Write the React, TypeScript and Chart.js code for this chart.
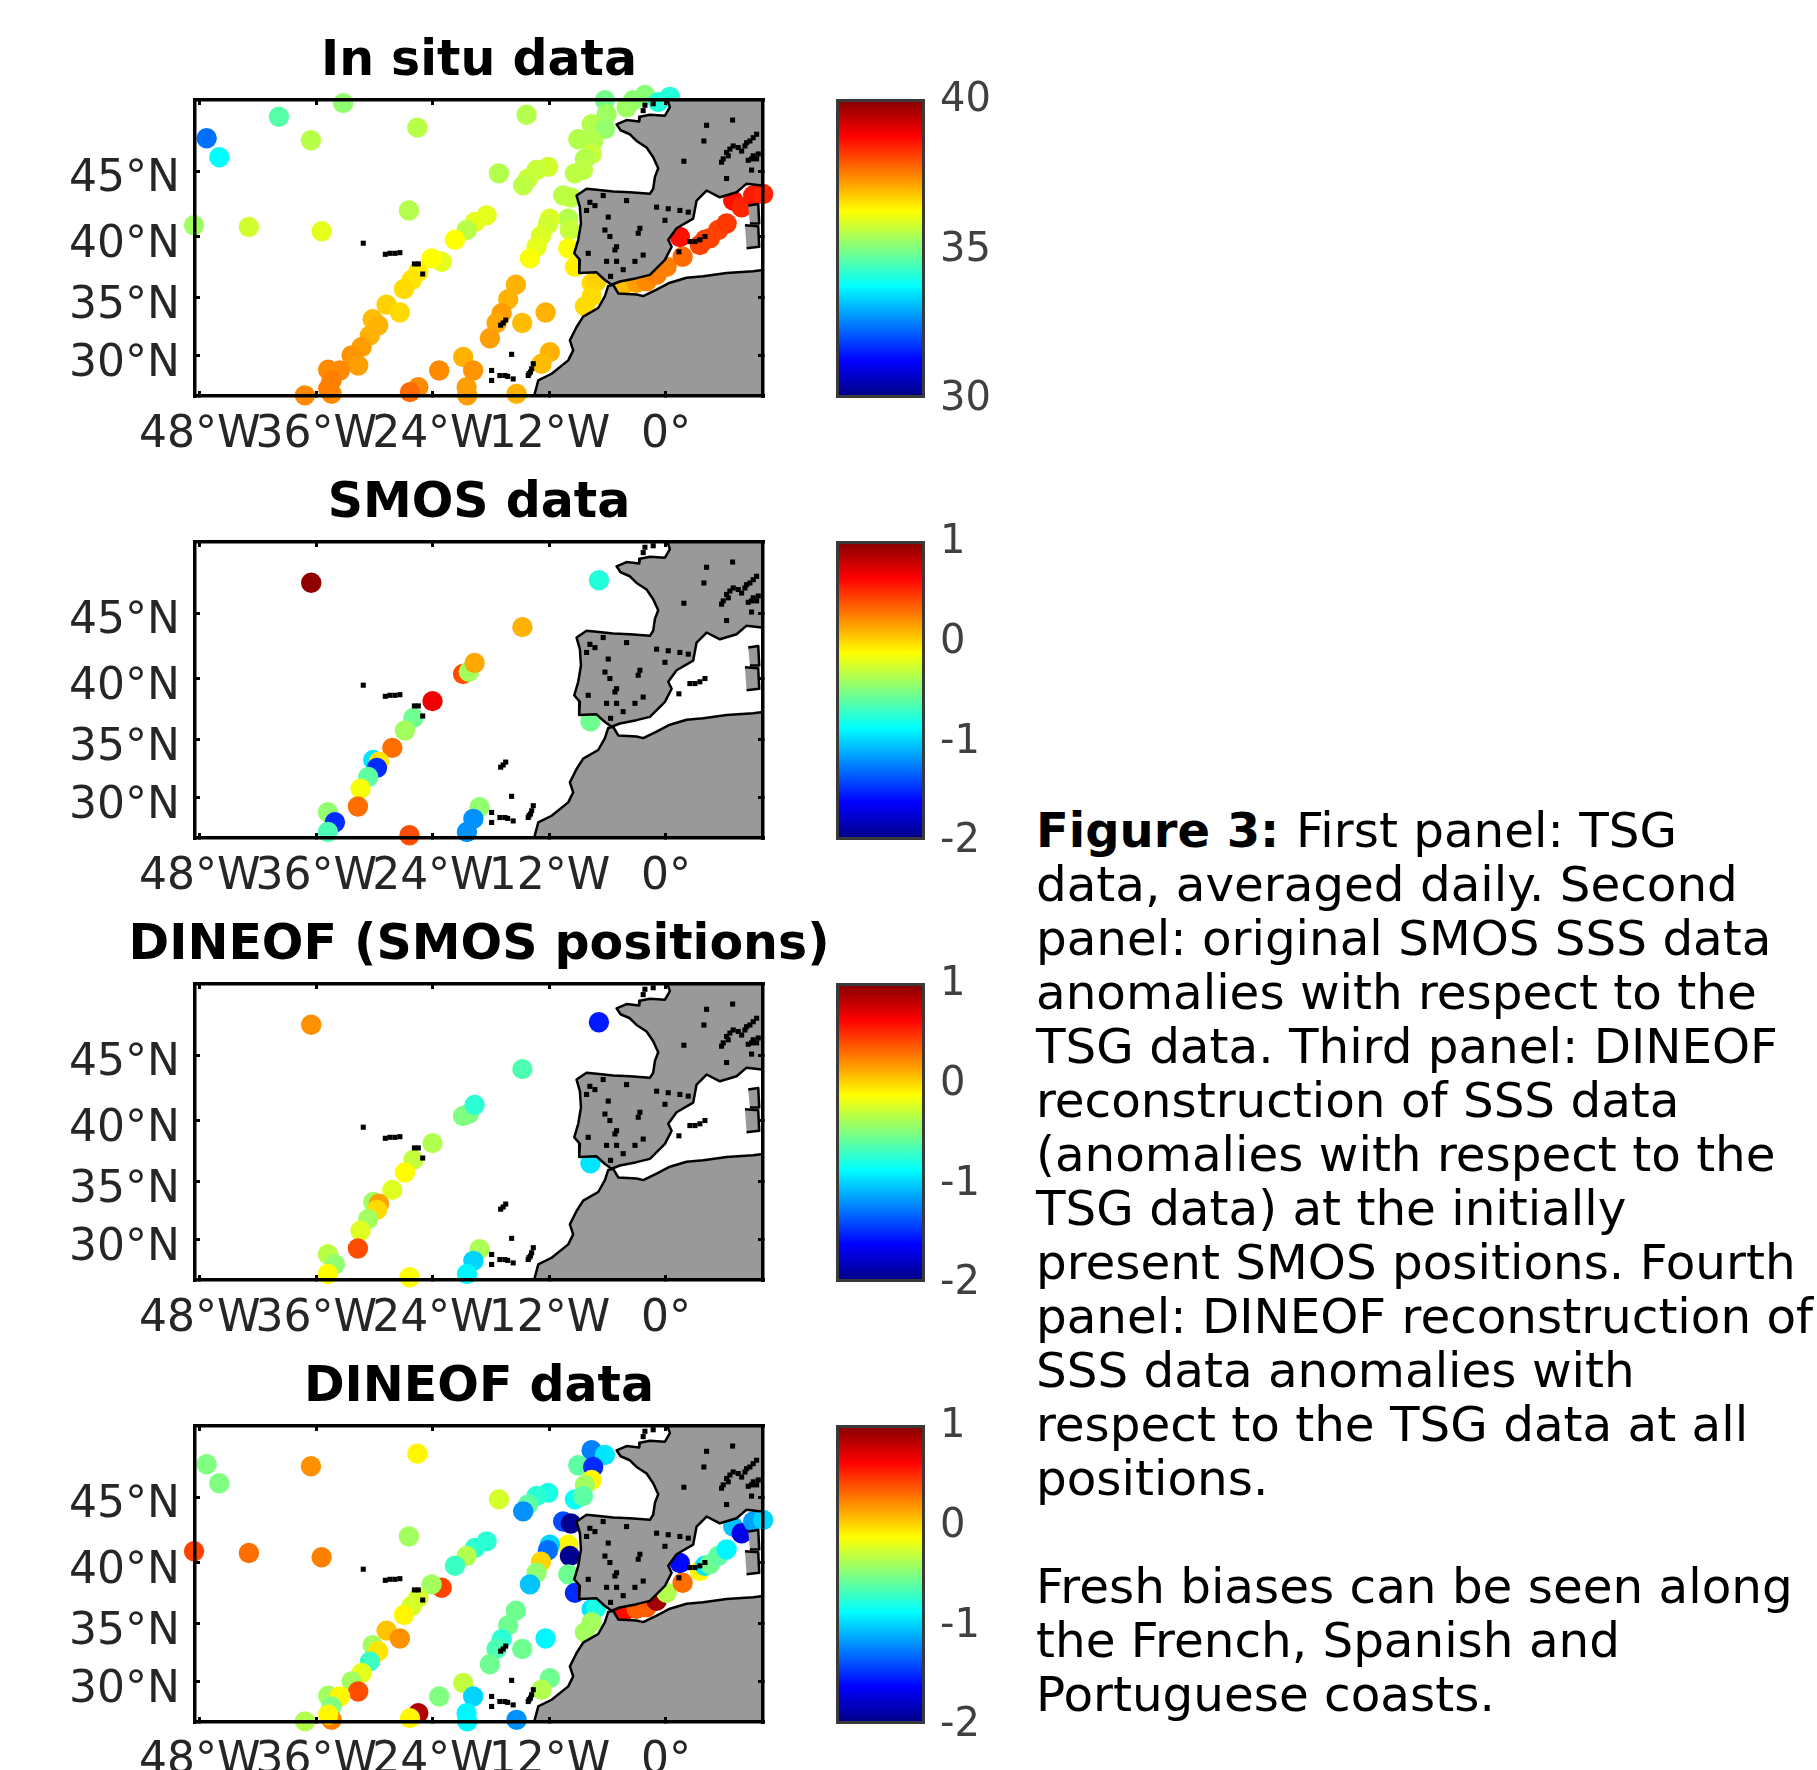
import React, { useEffect, useRef } from "react";
import { Chart, registerables } from "chart.js";

Chart.register(...registerables);

const FONT = "'DejaVu Sans', Verdana, sans-serif";

// ---- In situ / DINEOF track positions ----
const trackLon = [
  -47.3, -46.0, -39.86, -33.24, -36.56, -25.6, -48.6, -42.95, -35.46, -26.47,
  -19.67, -20.53, -21.73, -23.1, -24.13, -25.5, -26.19, -26.98, -28.77, -27.4,
  -30.2, -29.63, -30.48, -31.34, -32.37, -31.69, -34.78, -33.57, -34.43, -34.43,
  -34.78, -37.18, -25.5, -26.36, -23.35, -20.88, -19.85, -20.53, -20.46,
  -6.28, -3.37, -2.16, -0.79, 0.41, -4.05, -6.11, -7.65, -6.28, -9.03,
  -7.49, -7.65, -8.34, -9.37, -8.55, -14.35, -17.2, -12.12, -13.32, -14.18,
  -14.7, -10.58, -9.78, -10.06, -9.89, -10.06, -9.37, -11.95, -12.15, -12.87,
  -13.32, -14.0, -18.47, -7.65, -7.14, -7.65, -8.34, -15.45, -16.24, -16.92,
  -17.44, -18.13, -12.39, -14.8, -11.95, -12.8, -15.38, -4.4, -3.02, -1.99,
  -0.96, 0.07, 1.72, 1.44, 3.5, 4.02, 4.53, 5.39, 6.25, 6.93, 7.8, 8.99, 10.02,
];
const trackLat = [
  47.34, 46.0, 48.82, 49.74, 47.2, 48.08, 40.9, 40.77, 40.43, 42.05,
  41.16, 40.53, 39.76, 38.0, 38.27, 37.18, 36.5, 35.75, 34.43, 33.75,
  33.17, 32.66, 31.77, 30.74, 30.0, 29.09, 28.7, 28.64, 27.73, 26.5,
  26.97, 26.36, 27.12, 26.66, 28.64, 29.85, 28.64, 27.12, 26.36,
  49.93, 49.93, 50.28, 49.81, 50.16, 49.47, 49.0, 48.31, 47.99, 47.27,
  47.15, 46.23, 45.88, 44.83, 45.07, 48.96, 44.83, 45.3, 45.07, 44.45,
  43.94, 43.18, 43.03, 41.42, 40.53, 39.08, 37.58, 41.42, 40.98, 40.08,
  39.21, 38.27, 41.67, 36.24, 36.37, 35.15, 34.28, 36.11, 34.88, 33.7,
  32.85, 31.52, 33.75, 32.85, 30.29, 29.25, 26.5, 36.0, 36.27, 36.4,
  36.92, 37.59, 38.4, 39.98, 39.35, 39.76, 39.89, 40.53, 41.04, 42.8, 42.3, 43.18, 43.3,
];
const inSituValues = [
  32.35, 33.75, 34.6, 35.15, 35.55, 35.55, 35.3, 35.8, 36.0, 35.5,
  36.0, 35.55, 36.25, 36.0, 36.25, 36.4, 36.5, 36.6, 36.7, 36.6,
  36.9, 37.0, 37.0, 37.2, 37.3, 37.2, 37.4, 37.4, 37.5, 37.4,
  37.5, 37.4, 37.4, 37.7, 37.4, 37.0, 37.3, 37.2, 37.2,
  34.9, 35.1, 35.1, 34.1, 34.1, 35.3, 35.3, 35.5, 35.2, 35.5,
  35.5, 35.7, 35.5, 35.6, 35.6, 35.5, 35.5, 35.8, 35.7, 35.7,
  35.6, 35.6, 35.6, 35.5, 35.7, 36.2, 36.4, 35.9, 35.8, 35.9,
  36.0, 36.2, 36.0, 36.6, 36.7, 36.6, 36.6, 37.0, 37.0, 37.2,
  37.1, 37.2, 37.0, 36.9, 37.0, 36.9, 37.0, 36.9, 37.2, 37.4,
  37.5, 37.5, 37.7, 38.6, 38.1, 38.1, 38.1, 38.1, 38.2, 38.6, 38.4, 38.5, 38.4,
];
const dineofValues = [
  -0.5, -0.5, null, null, 0.2, -0.1, 0.43, 0.3, 0.25, -0.4,
  -0.74, -0.35, -0.7, 0.43, -0.4, -0.25, -0.25, -0.1, 0.05, 0.2,
  -0.4, -0.05, -0.7, -0.2, -0.4, 0.4, -0.4, -0.1, -0.5, 0.25,
  -0.1, -0.35, 0.85, -0.1, -0.5, -0.3, -1.0, -0.9, -0.9,
  null, null, null, null, null, null, null, -1.25, -0.95, -0.6,
  -1.5, -0.1, -0.4, -0.85, -0.6, null, -0.25, -0.8, -0.75, -0.6,
  -1.2, -1.4, -1.95, -0.1, -1.95, -0.55, -1.5, -1.0, -1.3, 0.0,
  -0.45, -1.05, -0.75, -0.95, -0.8, -0.4, -0.4, -0.55, -0.55, -0.75,
  -0.65, -0.55, -0.9, -0.55, -0.55, -0.35, -1.2, 0.6, 0.35, 0.35,
  0.9, -0.35, 0.3, -1.6, -0.1, -0.95, -0.55, -0.6, -0.9, -1.05, -1.7, -1.15, -1.0,
];

// ---- SMOS positions ----
const smosLon = [
  -36.53, -6.9, -14.78, -20.89, -20.29, -19.7, -24.04, -26.01, -26.88, -28.18, -30.14, -29.56,
  -29.76, -30.66, -31.45, -31.72, -34.81, -34.09, -34.81, -26.41, -19.19, -19.83, -20.49, -7.77,
];
const smosLat = [
  47.17, 47.34, 43.96, 40.38, 40.55, 41.24, 38.21, 36.84, 35.79, 34.32, 33.28, 33.13,
  32.6, 31.8, 30.77, 29.18, 28.66, 27.75, 26.85, 26.55, 29.12, 28.06, 26.85, 36.55,
];
const smosValues = [
  0.95, -0.77, 0.1, 0.4, -0.4, 0.13, 0.67, -0.55, -0.4, 0.3, -0.95, -0.05,
  -1.5, -0.6, -0.15, 0.3, -0.45, -1.5, -0.65, 0.4, -0.45, -1.2, -1.2, -0.55,
];
const dineofSmosValues = [
  0.2, -1.55, -0.65, -0.5, -0.5, -0.75, -0.35, -0.3, -0.12, -0.22, -0.4, 0.15,
  -0.02, -0.4, -0.22, 0.4, -0.33, -0.45, -0.12, -0.12, -0.37, -1.0, -0.9, -0.95,
];

// ---- Land outlines as [lon, lat] ----
const europeCoast = [
  [10.2, 50.1], [0.07, 50.1], [0.41, 49.47], [-0.1, 48.9], [-1.65, 48.96], [-2.68, 48.82], [-2.75, 48.5],
  [-4.05, 48.6], [-5.08, 48.31], [-4.67, 47.9], [-3.71, 47.62], [-3.02, 47.15], [-1.99, 46.69], [-1.31, 46.0],
  [-0.79, 45.2], [-1.13, 44.57], [-1.31, 43.69], [-1.65, 43.31], [-3.71, 43.43], [-5.43, 43.48], [-7.14, 43.61],
  [-8.17, 43.69], [-9.2, 43.18], [-8.86, 42.3], [-8.75, 41.04], [-9.03, 39.76], [-9.44, 38.68], [-8.86, 38.15],
  [-8.93, 37.08], [-7.14, 37.13], [-6.28, 36.5], [-5.59, 36.1], [-4.74, 36.37], [-3.02, 36.65], [-1.65, 36.92],
  [-0.1, 38.15], [0.59, 39.21], [0.24, 39.76], [1.1, 40.67], [2.81, 41.42], [3.16, 42.8], [4.19, 43.56],
  [5.56, 43.05], [7.28, 43.43], [8.31, 44.07], [9.86, 43.94], [10.2, 43.94],
];
const africaCoast = [
  [-13.66, 26.0], [-13.15, 27.73], [-11.77, 28.34], [-10.06, 29.55], [-9.55, 30.44], [-9.89, 31.33], [-9.2, 32.5],
  [-8.52, 33.4], [-6.97, 34.14], [-6.28, 35.15], [-5.94, 36.0], [-5.43, 36.1], [-4.91, 35.37], [-3.02, 35.29],
  [-2.34, 35.15], [-0.96, 35.7], [0.41, 36.27], [2.13, 36.68], [3.85, 36.8], [6.25, 37.08], [8.99, 37.22],
  [10.2, 37.35], [10.2, 26.0],
];
const corsicaCoast = [[8.48, 42.42], [9.51, 42.55], [9.61, 41.04], [8.65, 41.04]];
const sardiniaCoast = [[8.14, 40.9], [9.51, 40.83], [9.61, 39.21], [8.31, 39.08]];
const specks = [
  [-7.83, 42.67], [-7.31, 42.42], [-8.17, 42.05], [-5.94, 41.54], [-6.28, 40.53], [-5.77, 40.02], [-5.08, 39.21],
  [-5.25, 38.95], [-2.68, 40.67], [-2.85, 40.28], [-0.96, 42.3], [0.24, 42.18], [1.44, 42.05], [2.3, 41.92],
  [-0.1, 41.29], [-4.05, 42.8], [-6.46, 43.18], [-2.34, 38.54], [-3.19, 38.03], [-6.11, 38.03], [-5.08, 38.03],
  [-4.4, 37.35], [-8.0, 38.68], [-5.7, 36.8],
  [6.93, 46.8], [6.25, 46.34], [5.73, 45.64], [8.31, 47.03], [9.34, 47.62], [8.82, 45.88], [9.34, 45.88],
  [7.8, 46.44], [6.25, 44.45], [8.82, 45.07], [4.19, 48.24], [6.87, 48.6], [3.91, 47.15], [1.85, 45.71],
  [6.59, 46.58], [6.42, 46.1], [5.9, 45.88], [7.45, 46.69], [8.65, 47.15], [8.99, 47.38], [8.14, 46.8],
  [8.99, 46.1], [9.51, 46.23], [8.48, 45.78],
  [2.99, 39.62], [2.47, 39.62], [3.5, 39.76], [4.02, 40.02], [1.34, 38.8],
  [-17.95, 28.64], [-17.1, 28.18], [-16.58, 28.18], [-15.73, 27.87], [-17.95, 27.73], [-13.83, 28.79],
  [-13.66, 29.25], [-14.18, 28.18], [-13.95, 28.5], [-14.1, 28.35], [-16.3, 28.1], [-15.89, 30.09],
  [-16.76, 32.85], [-17.02, 32.66], [-16.5, 33.1],
  [-31.17, 39.49], [-28.9, 38.6], [-28.42, 38.68], [-27.91, 38.68], [-27.4, 38.73], [-25.5, 37.82], [-25.9, 37.82],
  [-25.05, 36.99], [-2.16, 49.6], [-2.34, 49.24], [-1.31, 49.7],
];

// ---- Axis ticks ----
const lonTicks = [-48, -36, -24, -12, 0];
const lonTickLabels = ["48°W", "36°W", "24°W", "12°W", "0°"];
const latTicks = [30, 35, 40, 45];
const latTickLabels = ["30°N", "35°N", "40°N", "45°N"];
const insituBarTicks = [30, 35, 40];
const anomalyBarTicks = [-2, -1, 0, 1];

const jetStops: [number, string][] = [
  [0, "#000080"], [0.125, "#0000ff"], [0.375, "#00ffff"], [0.625, "#ffff00"], [0.875, "#ff0000"], [1, "#800000"],
];

const merc = (lat: number) => Math.log(Math.tan(Math.PI / 4 + (lat * Math.PI) / 360));

function jet(t: number) {
  const c = (x: number) => Math.round(255 * Math.max(0, Math.min(1, x)));
  const r = Math.min(4 * t - 1.5, -4 * t + 4.5);
  const g = Math.min(4 * t - 0.5, -4 * t + 3.5);
  const b = Math.min(4 * t + 0.5, -4 * t + 2.5);
  return `rgb(${c(r)},${c(g)},${c(b)})`;
}

function zeroPadding(scale: any) {
  scale.paddingLeft = 0;
  scale.paddingRight = 0;
  scale.paddingTop = 0;
  scale.paddingBottom = 0;
}

const PANEL_W = 958;
const TITLE_H = 100;
const AREA_LEFT = 195;
const AREA_H = 296;
const BOTTOM_H = 75;

type PanelProps = {
  title: string;
  top: number;
  lons: number[];
  lats: number[];
  values: (number | null)[];
  vmin: number;
  vmax: number;
};

function MapPanel({ title, top, lons, lats, values, vmin, vmax }: PanelProps) {
  const ref = useRef<HTMLCanvasElement>(null);
  useEffect(() => {
    const points: { x: number; y: number }[] = [];
    const colors: string[] = [];
    values.forEach((v, i) => {
      if (v === null) return;
      points.push({ x: lons[i], y: merc(lats[i]) });
      colors.push(jet((v - vmin) / (vmax - vmin)));
    });
    const land = (coast: number[][]) => ({
      type: "scatter" as const,
      data: coast.map(([x, y]) => ({ x, y: merc(y) })),
      showLine: true,
      fill: "shape",
      backgroundColor: "#999999",
      borderColor: "#000000",
      borderWidth: 2.5,
      pointRadius: 0,
      tension: 0,
      order: 1,
    });
    const frame = {
      grid: { drawOnChartArea: false, color: "#000", lineWidth: 3, tickLength: -5, z: 1 },
      border: { display: true, color: "#000", width: 3.5, z: 1 },
    };
    const chart = new Chart(ref.current!, {
      type: "scatter",
      data: {
        datasets: [
          land(europeCoast),
          land(africaCoast),
          land(corsicaCoast),
          land(sardiniaCoast),
          {
            data: specks.map(([x, y]) => ({ x, y: merc(y) })),
            pointStyle: "rect",
            pointRadius: 3.6,
            pointBorderWidth: 0,
            backgroundColor: "#000",
            order: 0,
          },
          {
            data: points,
            backgroundColor: colors,
            pointRadius: 10.2,
            pointBorderWidth: 0,
            clip: false,
            order: 2,
          },
        ] as any,
      },
      options: {
        responsive: false,
        animation: false,
        layout: { padding: 0 },
        plugins: {
          legend: { display: false },
          tooltip: { enabled: false },
          title: {
            display: true,
            text: title,
            color: "#000",
            font: { family: FONT, size: 49, weight: "bold", lineHeight: 1.2 },
            padding: { top: 33, bottom: 8.2 },
          },
        },
        elements: { line: { borderJoinStyle: "round" } },
        scales: {
          x: {
            type: "linear",
            position: "bottom",
            min: -48.5,
            max: 10,
            afterBuildTicks: (s: any) => {
              s.ticks = lonTicks.map((value) => ({ value }));
            },
            afterFit: (s: any) => {
              s.height = BOTTOM_H;
              zeroPadding(s);
            },
            ticks: {
              autoSkip: false,
              maxRotation: 0,
              minRotation: 0,
              padding: 18,
              color: "#262626",
              font: { family: FONT, size: 44 },
              callback: (_v: any, i: number) => lonTickLabels[i],
            },
            ...frame,
          },
          x2: {
            type: "linear",
            position: "top",
            min: -48.5,
            max: 10,
            afterBuildTicks: (s: any) => {
              s.ticks = lonTicks.map((value) => ({ value }));
            },
            afterFit: (s: any) => {
              s.height = 0;
              zeroPadding(s);
            },
            ticks: { display: false },
            ...frame,
          },
          y: {
            type: "linear",
            position: "left",
            min: merc(26.3),
            max: merc(49.95),
            afterBuildTicks: (s: any) => {
              s.ticks = latTicks.map((l) => ({ value: merc(l) }));
            },
            afterFit: (s: any) => {
              s.width = AREA_LEFT;
              zeroPadding(s);
            },
            ticks: {
              autoSkip: false,
              padding: 20,
              labelOffset: 9,
              color: "#262626",
              font: { family: FONT, size: 44 },
              callback: (_v: any, i: number) => latTickLabels[i],
            },
            ...frame,
          },
          y2: {
            type: "linear",
            position: "right",
            min: merc(26.3),
            max: merc(49.95),
            afterBuildTicks: (s: any) => {
              s.ticks = latTicks.map((l) => ({ value: merc(l) }));
            },
            afterFit: (s: any) => {
              s.width = AREA_LEFT;
              zeroPadding(s);
            },
            ticks: { display: false },
            ...frame,
          },
        },
      } as any,
    });
    return () => chart.destroy();
  }, []);
  return (
    <canvas
      ref={ref}
      width={PANEL_W}
      height={TITLE_H + AREA_H + BOTTOM_H}
      style={{ position: "absolute", left: 0, top: top - TITLE_H }}
    />
  );
}

function ColorBar({ top, vmin, vmax, ticks }: { top: number; vmin: number; vmax: number; ticks: number[] }) {
  const ref = useRef<HTMLCanvasElement>(null);
  useEffect(() => {
    const chart = new Chart(ref.current!, {
      type: "bar",
      data: {
        labels: [""],
        datasets: [
          {
            data: [[vmin, vmax]],
            backgroundColor: (ctx: any) => {
              const area = ctx.chart.chartArea;
              if (!area) return "#000";
              const g = ctx.chart.ctx.createLinearGradient(0, area.bottom, 0, area.top);
              jetStops.forEach(([p, c]) => g.addColorStop(p, c));
              return g;
            },
            borderColor: "#3a3a3a",
            borderWidth: 3,
            borderSkipped: false,
            inflateAmount: 0,
            barPercentage: 1,
            categoryPercentage: 1,
          },
        ] as any,
      },
      options: {
        responsive: false,
        animation: false,
        layout: { padding: { left: 36, right: 0, top: 30, bottom: 30 } },
        plugins: { legend: { display: false }, tooltip: { enabled: false } },
        scales: {
          x: { type: "category", display: false },
          y: {
            type: "linear",
            position: "right",
            min: vmin,
            max: vmax,
            afterBuildTicks: (s: any) => {
              s.ticks = ticks.map((value) => ({ value }));
            },
            afterFit: (s: any) => {
              s.width = 75;
              zeroPadding(s);
            },
            grid: { display: false },
            border: { display: false },
            ticks: {
              autoSkip: false,
              padding: 7,
              labelOffset: 2,
              color: "#404040",
              font: { family: FONT, size: 40 },
              callback: (v: any) => String(v),
            },
          },
        },
      } as any,
    });
    return () => chart.destroy();
  }, []);
  return (
    <canvas
      ref={ref}
      width={200}
      height={AREA_H + 3 + 60}
      style={{ position: "absolute", left: 800, top: top - 31 }}
    />
  );
}

const captionLines = [
  "First panel: TSG",
  "data, averaged daily. Second",
  "panel: original SMOS SSS data",
  "anomalies with respect to the",
  "TSG data. Third panel: DINEOF",
  "reconstruction of SSS data",
  "(anomalies with respect to the",
  "TSG data) at the initially",
  "present SMOS positions. Fourth",
  "panel: DINEOF reconstruction of",
  "SSS data anomalies with",
  "respect to the TSG data at all",
  "positions.",
  "",
  "Fresh biases can be seen along",
  "the French, Spanish and",
  "Portuguese coasts.",
];

const panels = [
  { title: "In situ data", top: 100, lons: trackLon, lats: trackLat, values: inSituValues, vmin: 30, vmax: 40, ticks: insituBarTicks },
  { title: "SMOS data", top: 542, lons: smosLon, lats: smosLat, values: smosValues, vmin: -2, vmax: 1, ticks: anomalyBarTicks },
  { title: "DINEOF (SMOS positions)", top: 984, lons: smosLon, lats: smosLat, values: dineofSmosValues, vmin: -2, vmax: 1, ticks: anomalyBarTicks },
  { title: "DINEOF data", top: 1426, lons: trackLon, lats: trackLat, values: dineofValues, vmin: -2, vmax: 1, ticks: anomalyBarTicks },
];

export default function App() {
  return (
    <div
      style={{
        position: "absolute",
        left: 0,
        top: 0,
        width: 1817,
        height: 1770,
        overflow: "hidden",
        background: "#fff",
        filter: "blur(0.7px)",
      }}
    >
      {panels.map((p) => (
        <React.Fragment key={p.title}>
          <MapPanel title={p.title} top={p.top} lons={p.lons} lats={p.lats} values={p.values} vmin={p.vmin} vmax={p.vmax} />
          <ColorBar top={p.top} vmin={p.vmin} vmax={p.vmax} ticks={p.ticks} />
        </React.Fragment>
      ))}
      <div
        style={{
          position: "absolute",
          left: 1036,
          top: 803,
          fontFamily: FONT,
          fontSize: 48.4,
          lineHeight: "54px",
          whiteSpace: "pre",
          color: "#000",
        }}
      >
        {captionLines.map((line, i) => (
          <div key={i} style={{ height: 54 }}>
            {i === 0 ? <b style={{ fontSize: 48 }}>Figure 3: </b> : null}
            {line}
          </div>
        ))}
      </div>
    </div>
  );
}
